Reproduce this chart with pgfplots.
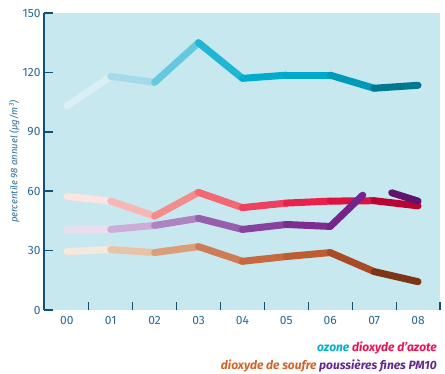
\documentclass[border=0pt]{standalone}
\usepackage{pgfplots}
\pgfplotsset{compat=1.18}
\usepackage{fontspec}
\setmainfont{Fira Sans}

\definecolor{bgblue}{RGB}{200,232,239}
\definecolor{axisblue}{RGB}{18,80,120}
\definecolor{labblue}{RGB}{40,105,150}
\definecolor{tozone}{RGB}{0,174,200}
\definecolor{tno}{RGB}{232,20,80}
\definecolor{tso}{RGB}{210,100,40}
\definecolor{tpm}{RGB}{100,40,140}

\begin{document}
\begin{tikzpicture}
\begin{axis}[
    scale only axis,
    width=396pt, height=297pt,
    xmin=-0.52, xmax=8.5,
    ymin=0, ymax=150,
    axis background/.style={fill=bgblue},
    axis x line=bottom, axis y line=left,
    x axis line style={draw=none},
    y axis line style={-, line width=2.5pt, color=axisblue},
    xtick={0,...,8},
    xticklabels={00,01,02,03,04,05,06,07,08},
    minor xtick={0.5,1.5,...,8.5},
    ytick={0,30,...,150},
    tick align=inside,
    major x tick style={draw=none},
    minor x tick style={line width=1.2pt, color=axisblue},
    minor tick length=8pt,
    major y tick style={line width=1.6pt, color=axisblue},
    major tick length=9pt,
    tick label style={color=labblue, font=\fontsize{12}{14}\selectfont},
    xticklabel style={yshift=-3pt},
    /pgf/number format/assume math mode=true,
    ylabel={percentile 98 annuel (µg/m\textsuperscript{3})},
    ylabel style={color=labblue, font=\itshape\fontsize{9.5}{11}\selectfont, at={(-21pt,0.5)}, anchor=south},
    every axis plot/.append style={mesh, point meta=x, point meta min=0, point meta max=8, line width=7pt, line cap=round},
]
% ozone
\addplot[colormap={oz}{rgb255=(245,250,252) rgb255=(190,228,238) rgb255=(140,210,228) rgb255=(60,190,215) rgb255=(0,174,205) rgb255=(0,172,205) rgb255=(0,165,200) rgb255=(0,140,170) rgb255=(0,100,115)}]
coordinates {(0,103) (1,118) (2,115) (3,135) (4,117) (5,118.6) (6,118.6) (7,112) (8,113.5)};
% dioxyde d'azote
\addplot[colormap={no}{rgb255=(255,250,248) rgb255=(250,205,200) rgb255=(245,160,160) rgb255=(242,120,120) rgb255=(240,90,110) rgb255=(235,40,80) rgb255=(232,25,72) rgb255=(210,10,60) rgb255=(160,0,40)}]
coordinates {(0,57.4) (1,55) (2,47.4) (3,59.4) (4,51.7) (5,54) (6,55) (7,55.2) (8,52.6)};
% poussieres fines PM10
\addplot[colormap={pm}{rgb255=(250,248,252) rgb255=(215,195,225) rgb255=(190,150,205) rgb255=(160,110,180) rgb255=(140,80,165) rgb255=(130,50,150) rgb255=(120,40,140) rgb255=(110,30,135) rgb255=(90,15,95)}]
coordinates {(0,40.5) (1,40.7) (2,42.7) (3,46.3) (4,40.7) (5,43.2) (6,42.2) (6.74,58)};
\addplot[colormap={pm2}{rgb255=(250,248,252) rgb255=(215,195,225) rgb255=(190,150,205) rgb255=(160,110,180) rgb255=(140,80,165) rgb255=(130,50,150) rgb255=(120,40,140) rgb255=(110,30,135) rgb255=(90,15,95)}]
coordinates {(7.4,59.2) (8,55)};
% dioxyde de soufre
\addplot[colormap={so}{rgb255=(255,250,245) rgb255=(240,215,195) rgb255=(225,175,140) rgb255=(210,140,100) rgb255=(200,110,70) rgb255=(195,100,55) rgb255=(185,85,45) rgb255=(150,65,30) rgb255=(100,40,15)}]
coordinates {(0,29.5) (1,30.5) (2,29) (3,32) (4,24.6) (5,27) (6,29) (7,19.4) (8,14.3)};
\end{axis}
\node[anchor=east, inner sep=0pt, font=\bfseries\itshape\fontsize{12}{14}\selectfont] at (393pt,-38pt)
  {\textcolor{tozone}{ozone} \textcolor{tno}{dioxyde d'azote}};
\node[anchor=east, inner sep=0pt, font=\bfseries\itshape\fontsize{12}{14}\selectfont] at (393pt,-56pt)
  {\textcolor{tso}{dioxyde de soufre} \textcolor{tpm}{poussières fines PM10}};
\pgfresetboundingbox
\path[use as bounding box] (-44pt,-63pt) rectangle (401pt,310pt);
\end{tikzpicture}
\end{document}
